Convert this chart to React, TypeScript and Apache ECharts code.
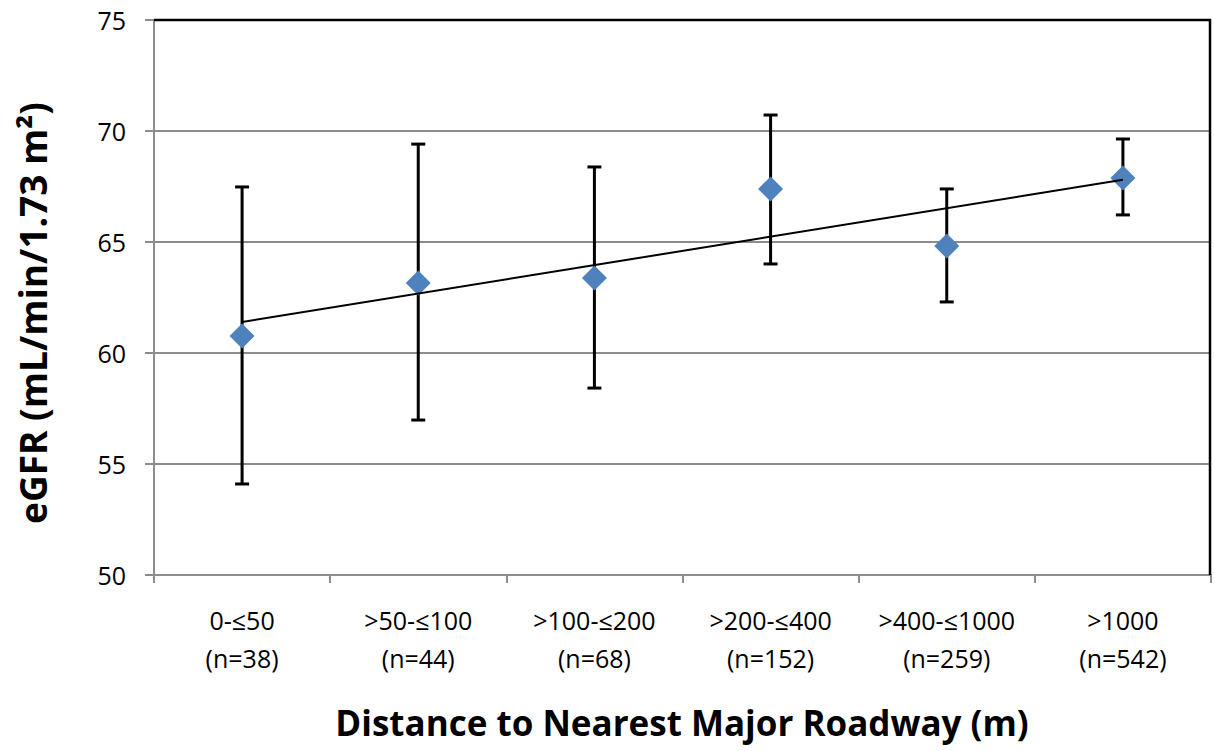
import React, { useEffect, useRef } from "react";
import * as echarts from "echarts";

const categories = [
  "0-≤50\n(n=38)",
  ">50-≤100\n(n=44)",
  ">100-≤200\n(n=68)",
  ">200-≤400\n(n=152)",
  ">400-≤1000\n(n=259)",
  ">1000\n(n=542)",
];
const means = [60.77, 63.15, 63.38, 67.39, 64.82, 67.88];
const upper = [67.48, 69.41, 68.38, 70.72, 67.39, 69.64];
const lower = [54.1, 56.98, 58.42, 64.01, 62.3, 66.22];
const trendStart = 61.4;
const trendEnd = 67.8;
const yTicks = { min: 50, max: 75, interval: 5 };

const FONT = "Open Sans";

export default function App() {
  const ref = useRef<HTMLDivElement>(null);
  useEffect(() => {
    if (!ref.current) return;
    const chart = echarts.init(ref.current, undefined, { renderer: "svg" });
    const errData = categories.map((_, i) => [i, lower[i], upper[i]]);
    chart.setOption({
      animation: false,
      backgroundColor: "#ffffff",
      grid: { left: 154, right: 3, top: 20, bottom: 176 },
      xAxis: {
        type: "category",
        data: categories,
        boundaryGap: true,
        axisLine: { lineStyle: { color: "#8c8c8c", width: 2 } },
        axisTick: { show: true, length: 8, lineStyle: { color: "#8c8c8c", width: 2 } },
        axisLabel: {
          color: "#000",
          fontFamily: FONT,
          fontSize: 25,
          lineHeight: 38,
          margin: 26,
          interval: 0,
        },
        splitLine: { show: false },
      },
      yAxis: {
        type: "value",
        min: yTicks.min,
        max: yTicks.max,
        interval: yTicks.interval,
        axisLine: { show: true, lineStyle: { color: "#8c8c8c", width: 2 } },
        axisTick: { show: true, length: 9, lineStyle: { color: "#8c8c8c", width: 2 } },
        axisLabel: { color: "#000", fontFamily: FONT, fontSize: 25, margin: 28 },
        splitLine: { show: true, lineStyle: { color: "#8c8c8c", width: 2 } },
      },
      graphic: [
        {
          type: "text",
          x: 32,
          y: 313,
          rotation: Math.PI / 2,
          style: {
            text: "eGFR (mL/min/1.73 m²)",
            fontFamily: FONT,
            fontWeight: "bold",
            fontSize: 37,
            fill: "#000",
            align: "center",
            verticalAlign: "middle",
          },
        },
        {
          type: "text",
          x: 682,
          y: 722,
          style: {
            text: "Distance to Nearest Major Roadway (m)",
            fontFamily: FONT,
            fontWeight: "bold",
            fontSize: 35,
            fill: "#000",
            align: "center",
            verticalAlign: "middle",
          },
        },
        {
          type: "polyline",
          shape: { points: [[154, 20], [1210, 20], [1210, 575]] },
          style: { stroke: "#000", lineWidth: 2.5, fill: null },
          z: 10,
        },
      ],
      series: [
        {
          type: "custom",
          z: 2,
          renderItem: (params: any, api: any) => {
            const x = api.value(0);
            const lo = api.coord([x, api.value(1)]);
            const hi = api.coord([x, api.value(2)]);
            const hw = 7;
            const style = { stroke: "#000", lineWidth: 3 };
            return {
              type: "group",
              children: [
                { type: "line", shape: { x1: lo[0], y1: lo[1], x2: hi[0], y2: hi[1] }, style },
                { type: "line", shape: { x1: lo[0] - hw, y1: lo[1], x2: lo[0] + hw, y2: lo[1] }, style },
                { type: "line", shape: { x1: hi[0] - hw, y1: hi[1], x2: hi[0] + hw, y2: hi[1] }, style },
              ],
            };
          },
          data: errData,
          encode: { x: 0, y: [1, 2] },
          silent: true,
        },
        {
          type: "scatter",
          z: 3,
          symbol: "diamond",
          symbolSize: 25,
          itemStyle: { color: "#4f81bd", opacity: 1 },
          data: means.map((v, i) => [i, v]),
          silent: true,
        },
        {
          type: "line",
          z: 4,
          symbol: "none",
          lineStyle: { color: "#000", width: 2 },
          data: [
            [0, trendStart],
            [categories.length - 1, trendEnd],
          ],
          silent: true,
        },
      ],
    });
    return () => chart.dispose();
  }, []);
  return (
    <div
      ref={ref}
      style={{ position: "absolute", left: 0, top: 0, width: 1214, height: 751 }}
    />
  );
}
